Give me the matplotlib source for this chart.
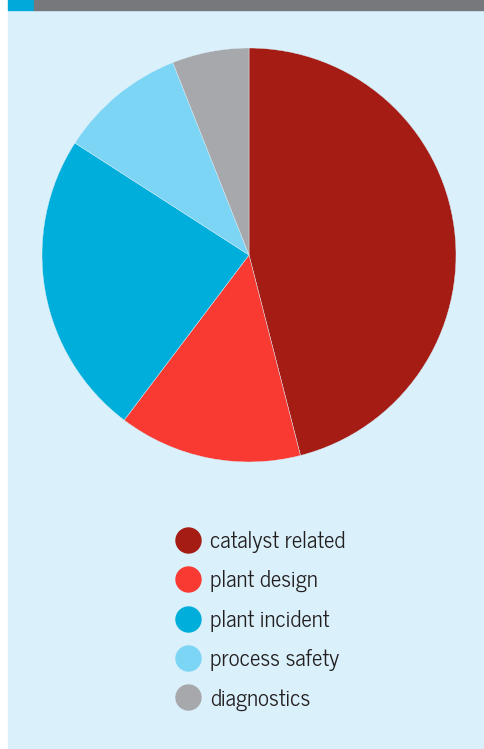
import matplotlib.pyplot as plt
from matplotlib.lines import Line2D
from matplotlib.patches import Rectangle

categories = ['catalyst related', 'plant design', 'plant incident',
              'process safety', 'diagnostics']
shares = [46, 14.3, 23.8, 9.9, 6.0]
colors = ['#A51C15', '#F83A33', '#00AEDB', '#7DD5F6', '#A7A8AB']

W, H = 485, 749
fig = plt.figure(figsize=(W / 100, H / 100), dpi=100)
fig.patch.set_facecolor('white')

# background panel and top bar
fig.patches.append(Rectangle((8 / W, 0), 1 - 8 / W, 1 - 10 / H,
                             transform=fig.transFigure, color='#DAF0FB', zorder=-1))
fig.patches.append(Rectangle((8 / W, 1 - 10 / H), 26 / W, 10 / H,
                             transform=fig.transFigure, color='#00A9DA', zorder=-1))
fig.patches.append(Rectangle((34 / W, 1 - 10 / H), 1 - 34 / W, 10 / H,
                             transform=fig.transFigure, color='#77787B', zorder=-1))

# pie: centre (249, 255), radius 207 px
r = 207
ax = fig.add_axes([(249 - r) / W, (H - 255 - r) / H, 2 * r / W, 2 * r / H])
ax.pie(shares, colors=colors, startangle=90, counterclock=False,
       wedgeprops=dict(linewidth=0.3, edgecolor='#DAF0FB'))
ax.set_xlim(-1, 1)
ax.set_ylim(-1, 1)
ax.set_aspect('auto')
ax.axis('off')

handles = [Line2D([], [], marker='o', linestyle='', markersize=18,
                  markerfacecolor=c, markeredgecolor=c) for c in colors]
fig.legend(handles, categories, loc='upper left',
           bbox_to_anchor=(154 / W, 1 - 510 / H), frameon=False,
           prop={'family': 'News Cycle', 'size': 16.5},
           labelspacing=0.76, handletextpad=0.35, handlelength=1.2,
           labelcolor='#231F20')

fig.savefig('out.png', dpi=100)
